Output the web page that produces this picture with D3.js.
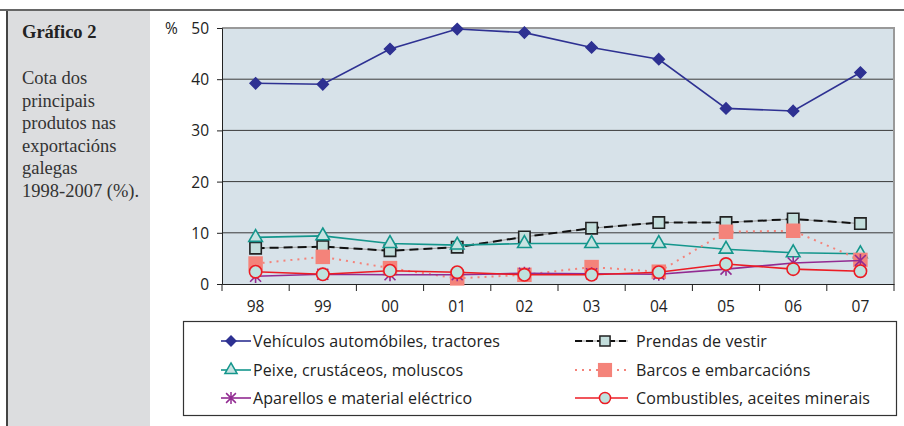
<!DOCTYPE html>
<html>
<head>
<meta charset="utf-8">
<script src="https://cdn.jsdelivr.net/npm/d3@7"></script>
<style>
  html, body { margin: 0; padding: 0; background: #fff; }
  svg { display: block; }
  .lbl { font-family: "Open Sans", sans-serif; font-size: 15.5px; fill: #222; }
  .leg { font-size: 16px; letter-spacing: 0.1px; }
  .side { font-family: "Liberation Serif", serif; font-size: 18.5px; fill: #333; }
</style>
</head>
<body>
<svg id="chart"></svg>
<script>
'use strict'

var years = ['98', '99', '00', '01', '02', '03', '04', '05', '06', '07']
var yTicks = [0, 10, 20, 30, 40, 50]

var vehiculos    = [39.2, 39.0, 45.9, 49.8, 49.1, 46.2, 43.9, 34.3, 33.8, 41.3]
var prendas      = [7.0, 7.3, 6.5, 7.2, 9.2, 10.9, 12.0, 12.0, 12.7, 11.8]
var peixe        = [9.1, 9.4, 7.9, 7.6, 7.9, 7.9, 7.9, 6.8, 6.1, 5.9]
var barcos       = [4.0, 5.3, 3.1, 1.1, 1.8, 3.3, 2.4, 10.2, 10.4, 4.7]
var aparellos    = [1.5, 1.9, 1.8, 1.8, 2.1, 2.0, 1.9, 2.9, 4.1, 4.6]
var combustibles = [2.4, 1.9, 2.6, 2.3, 1.8, 1.8, 2.3, 3.9, 2.9, 2.5]

var seriesNames = [
  'Vehículos automóbiles, tractores', 'Prendas de vestir',
  'Peixe, crustáceos, moluscos', 'Barcos e embarcacións',
  'Aparellos e material eléctrico', 'Combustibles, aceites minerais'
]

var sideTitle = 'Gráfico 2'
var sideLines = ['Cota dos', 'principais', 'produtos nas', 'exportacións', 'galegas', '1998-2007 (%).']

var width = 904, height = 426
var plot = { left: 222, right: 894, top: 28, bottom: 284 }

var svg = d3.select('#chart').attr('width', width).attr('height', height)

// side panel + frame
svg.append('rect').attr('x', 7).attr('y', 10).attr('width', 143).attr('height', height - 10).attr('fill', '#dcdddf')
svg.append('line').attr('x1', 7).attr('x2', 7).attr('y1', 10).attr('y2', height)
  .attr('stroke', '#444').attr('stroke-width', 2)
svg.append('line').attr('x1', 0).attr('x2', width).attr('y1', 10).attr('y2', 10)
  .attr('stroke', '#666').attr('stroke-width', 2)

svg.append('text').attr('class', 'side').attr('x', 22).attr('y', 38)
  .style('font-weight', 'bold').style('fill', '#222').text(sideTitle)
svg.selectAll('text.sl').data(sideLines).enter().append('text')
  .attr('class', 'side sl').attr('x', 22)
  .attr('y', function (d, i) { return 84 + i * 22.6 })
  .text(function (d) { return d })

var x = d3.scaleBand().domain(years).range([plot.left, plot.right]).padding(0)
var y = d3.scaleLinear().domain([0, 50]).range([plot.bottom, plot.top])
var cx = function (d, i) { return x(years[i]) + x.bandwidth() / 2 }

// plot area
svg.append('rect').attr('x', plot.left).attr('y', plot.top)
  .attr('width', plot.right - plot.left).attr('height', plot.bottom - plot.top)
  .attr('fill', '#d7e2e9')

svg.append('g').selectAll('line').data([10, 20, 30, 40]).enter().append('line')
  .attr('x1', plot.left).attr('x2', plot.right)
  .attr('y1', function (d) { return y(d) }).attr('y2', function (d) { return y(d) })
  .attr('stroke', '#3a3a3a').attr('stroke-width', 1)

svg.append('path')
  .attr('d', 'M' + plot.left + ',' + y(50) + 'H' + plot.right + 'V' + plot.bottom)
  .attr('fill', 'none').attr('stroke', '#999').attr('stroke-width', 2)

var yAxis = svg.append('g').attr('transform', 'translate(' + plot.left + ',0)')
  .call(d3.axisLeft(y).tickValues(yTicks).tickSize(5).tickPadding(8))
yAxis.select('.domain').attr('stroke', '#222')
yAxis.selectAll('.tick line').attr('stroke', '#222')
yAxis.selectAll('.tick text').attr('class', 'lbl').attr('dy', '0.36em')

svg.append('text').attr('class', 'lbl').attr('x', 165).attr('y', 34).text('%')

var xAxis = svg.append('g').attr('transform', 'translate(0,' + plot.bottom + ')')
  .call(d3.axisBottom(x).tickSize(0).tickPadding(17))
xAxis.select('.domain').attr('stroke', '#222')
xAxis.selectAll('.tick text').attr('class', 'lbl').attr('dy', '0.71em')
xAxis.selectAll('line.bd').data(d3.range(years.length + 1)).enter().append('line')
  .attr('class', 'bd')
  .attr('x1', function (i) { return plot.left + i * x.step() })
  .attr('x2', function (i) { return plot.left + i * x.step() })
  .attr('y1', 0).attr('y2', 7).attr('stroke', '#222')

// markers
var star = {
  draw: function (ctx, size) {
    var r = Math.sqrt(size) / 2
    ctx.moveTo(-r, -r); ctx.lineTo(r, r)
    ctx.moveTo(-r, r); ctx.lineTo(r, -r)
    ctx.moveTo(0, -r * 1.2); ctx.lineTo(0, r * 1.2)
  }
}
var diamond = {
  draw: function (ctx, size) {
    var r = Math.sqrt(size) / 2
    ctx.moveTo(0, -r); ctx.lineTo(r, 0); ctx.lineTo(0, r); ctx.lineTo(-r, 0); ctx.closePath()
  }
}

var series = [
  { values: vehiculos, color: '#2e3192', width: 1.6, dash: null, sym: diamond, size: 120, fill: '#2e3192', stroke: '#2e3192' },
  { values: prendas, color: '#111', width: 2, dash: '9,5', sym: d3.symbolSquare, size: 130, fill: '#c3dedc', stroke: '#222', under: '#999' },
  { values: peixe, color: '#14968c', width: 1.6, dash: null, sym: d3.symbolTriangle, size: 80, fill: '#c8e3e2', stroke: '#14968c' },
  { values: barcos, color: '#f4837a', width: 2, dash: '2,5', sym: d3.symbolSquare, size: 210, fill: '#f4837a', stroke: 'none' },
  { values: aparellos, color: '#922b92', width: 1.6, dash: null, sym: star, size: 120, fill: 'none', stroke: '#922b92' },
  { values: combustibles, color: '#ec1c24', width: 1.6, dash: null, sym: d3.symbolCircle, size: 120, fill: '#bfe2de', stroke: '#ec1c24' }
]

var line = d3.line().x(cx).y(function (d) { return y(d) })

series.forEach(function (s) {
  var g = svg.append('g')
  if (s.under) {
    g.append('path').attr('d', line(s.values)).attr('fill', 'none')
      .attr('stroke', s.under).attr('stroke-width', 1)
  }
  g.append('path').attr('d', line(s.values)).attr('fill', 'none')
    .attr('stroke', s.color).attr('stroke-width', s.width)
    .attr('stroke-dasharray', s.dash)
  g.selectAll('path.m').data(s.values).enter().append('path')
    .attr('class', 'm')
    .attr('transform', function (d, i) { return 'translate(' + cx(d, i) + ',' + y(d) + ')' })
    .attr('d', d3.symbol().type(s.sym).size(s.size))
    .attr('fill', s.fill).attr('stroke', s.stroke).attr('stroke-width', 1.6)
})

// legend
svg.append('rect').attr('x', 183.5).attr('y', 321.5).attr('width', 713).attr('height', 94)
  .attr('fill', '#fff').attr('stroke', '#333').attr('stroke-width', 1.2)

var legCols = [221, 575]
var legRows = [341, 370, 398]
series.forEach(function (s, i) {
  var lx = legCols[i % 2], ly = legRows[Math.floor(i / 2)]
  var w = i % 2 ? 53 : 30
  var g = svg.append('g').attr('transform', 'translate(' + lx + ',' + ly + ')')
  if (s.under) {
    g.append('line').attr('x1', 0).attr('x2', w).attr('stroke', s.under).attr('stroke-width', 1)
  }
  g.append('line').attr('x1', 0).attr('x2', w)
    .attr('stroke', s.color).attr('stroke-width', s.width)
    .attr('stroke-dasharray', s.dash ? (i === 1 ? '7,4' : s.dash) : null)
  g.append('path').attr('transform', 'translate(' + (i % 2 ? 30 : 10) + ',0)')
    .attr('d', d3.symbol().type(s.sym).size(i === 3 ? 200 : s.size * 0.8))
    .attr('fill', s.fill).attr('stroke', s.stroke).attr('stroke-width', 1.5)
  g.append('text').attr('class', 'lbl leg').attr('x', i % 2 ? 61 : 32).attr('dy', '0.35em')
    .text(seriesNames[i])
})
</script>
</body>
</html>
